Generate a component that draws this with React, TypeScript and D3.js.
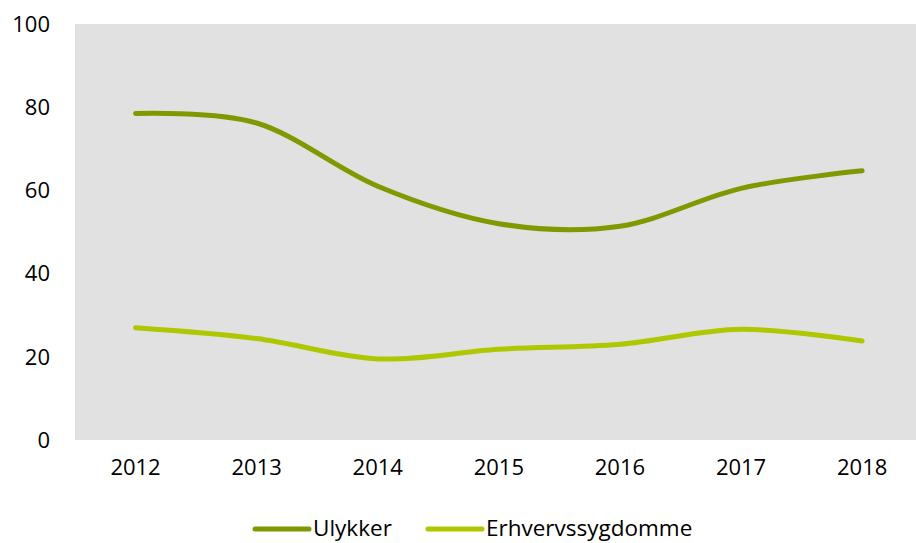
import React, { useEffect, useRef } from "react";
import * as d3 from "d3";

const years = ["2012", "2013", "2014", "2015", "2016", "2017", "2018"];
const ulykker = [78.5, 76.2, 61, 52, 51.4, 60.5, 64.7];
const erhverv = [27, 24.4, 19.5, 21.8, 23, 26.6, 23.8];
const yTicks = [0, 20, 40, 60, 80, 100];

const App = () => {
  const svgRef = useRef<SVGSVGElement>(null);

  useEffect(() => {
    const width = 916;
    const height = 543;
    const plot = { left: 75, top: 24, right: 916, bottom: 440 };
    const font = "'Open Sans', sans-serif";

    const svg = d3.select(svgRef.current).attr("width", width).attr("height", height);
    svg.selectAll("*").remove();

    // plot background
    svg
      .append("rect")
      .attr("x", plot.left)
      .attr("y", plot.top)
      .attr("width", plot.right - plot.left)
      .attr("height", plot.bottom - plot.top)
      .attr("fill", "#e1e1e1");

    const step = 121.1;
    const x = d3
      .scalePoint()
      .domain(years)
      .range([plot.left + step / 2, plot.left + step / 2 + step * 6]);
    const y = d3.scaleLinear().domain([0, 100]).range([plot.bottom, plot.top]);

    // y labels
    svg
      .append("g")
      .selectAll("text")
      .data(yTicks)
      .join("text")
      .attr("x", 50)
      .attr("y", (d) => y(d))
      .attr("dy", "0.35em")
      .attr("text-anchor", "end")
      .attr("font-family", font)
      .attr("font-size", 22)
      .attr("fill", "#000")
      .text((d) => d);

    // x labels
    svg
      .append("g")
      .selectAll("text")
      .data(years)
      .join("text")
      .attr("x", (d) => x(d)!)
      .attr("y", 475)
      .attr("text-anchor", "middle")
      .attr("font-family", font)
      .attr("font-size", 22)
      .attr("fill", "#000")
      .text((d) => d);

    const line = d3
      .line<number>()
      .x((_, i) => x(years[i])!)
      .y((d) => y(d))
      .curve(d3.curveCatmullRom.alpha(0));

    const series = [
      { name: "Ulykker", values: ulykker, color: "#7f9a00", lx: 255 },
      { name: "Erhvervssygdomme", values: erhverv, color: "#afc700", lx: 428 },
    ];

    series.forEach((s) => {
      svg
        .append("path")
        .datum(s.values)
        .attr("fill", "none")
        .attr("stroke", s.color)
        .attr("stroke-width", 5)
        .attr("stroke-linecap", "round")
        .attr("d", line);

      // legend
      svg
        .append("line")
        .attr("x1", s.lx)
        .attr("x2", s.lx + 54)
        .attr("y1", 529)
        .attr("y2", 529)
        .attr("stroke", s.color)
        .attr("stroke-width", 5)
        .attr("stroke-linecap", "round");
      svg
        .append("text")
        .attr("x", s.lx + 58)
        .attr("y", 536)
        .attr("font-family", font)
        .attr("font-size", 22.5)
        .attr("fill", "#000")
        .text(s.name);
    });
  }, []);

  return (
    <svg ref={svgRef} style={{ position: "absolute", left: 0, top: 0 }}></svg>
  );
};

export default App;
